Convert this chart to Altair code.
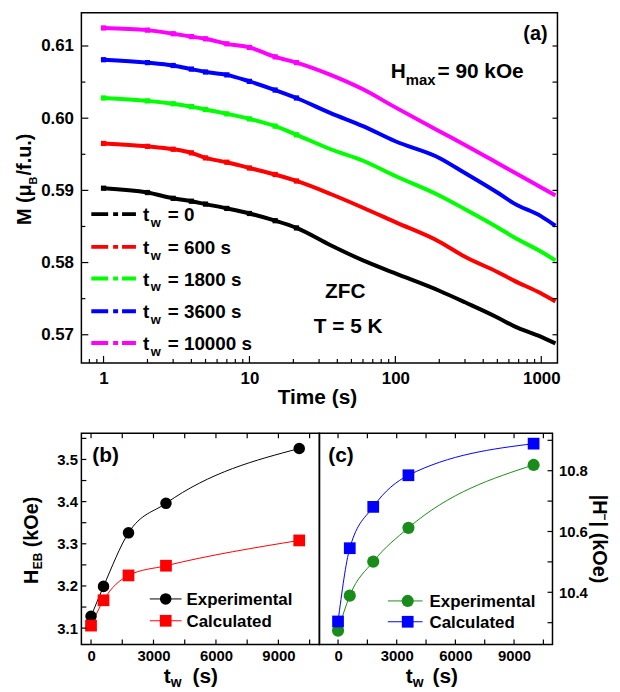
import altair as alt
import pandas as pd

F = "Liberation Sans"

# ---------------- Panel (a) data ----------------
t_s = [1, 2, 3, 4, 5, 7, 10, 15, 21, 36, 60, 100, 200, 300, 500, 650, 1000, 1250]
m_tw0 = [0.5903, 0.5897, 0.5889, 0.5885, 0.5881, 0.5875, 0.5868, 0.5858, 0.5848, 0.5824,
         0.5803, 0.5785, 0.5761, 0.5745, 0.5724, 0.5712, 0.5697, 0.5688]
m_tw600 = [0.5965, 0.5961, 0.5957, 0.5952, 0.5945, 0.5939, 0.5931, 0.5922, 0.5913, 0.5895,
           0.5876, 0.5856, 0.5829, 0.5808, 0.5787, 0.5775, 0.5757, 0.5746]
m_tw1800 = [0.6028, 0.6024, 0.6020, 0.6016, 0.6012, 0.6006, 0.5999, 0.5989, 0.5977, 0.5957,
            0.5941, 0.5920, 0.5893, 0.5874, 0.5849, 0.5835, 0.5815, 0.5803]
m_tw3600 = [0.6081, 0.6077, 0.6073, 0.6068, 0.6064, 0.6060, 0.6051, 0.6039, 0.6028, 0.6007,
            0.5989, 0.5968, 0.5945, 0.5924, 0.5897, 0.5882, 0.5864, 0.5851]
m_tw10000 = [0.6125, 0.6122, 0.6117, 0.6113, 0.6110, 0.6103, 0.6098, 0.6085, 0.6077, 0.6060,
             0.6040, 0.6015, 0.5982, 0.5963, 0.5938, 0.5925, 0.5904, 0.5893]
series_names = ["tw0", "tw600", "tw1800", "tw3600", "tw10000"]
series_colors = ["#000000", "#ff0000", "#00ff00", "#0000ff", "#ff00ff"]
legend_rest = ["= 0", "= 600 s", "= 1800 s", "= 3600 s", "= 10000 s"]

a_x_major = [1, 10, 100, 1000]
a_x_minor = [0.8, 0.9, 2, 3, 4, 5, 6, 7, 8, 9, 20, 30, 40, 50, 60, 70, 80, 90,
             200, 300, 400, 500, 600, 700, 800, 900]
a_y_major = [0.57, 0.58, 0.59, 0.60, 0.61]
a_y_minor = [0.575, 0.585, 0.595, 0.605]

# ---------------- Panels (b), (c) data ----------------
tw = [0, 600, 1800, 3600, 10000]
heb_exp = [3.128, 3.199, 3.326, 3.396, 3.526]
heb_calc = [3.106, 3.166, 3.225, 3.248, 3.308]
hm_exp = [10.274, 10.389, 10.501, 10.612, 10.819]
hm_calc = [10.304, 10.545, 10.681, 10.785, 10.889]

bc_x_major = [0, 3000, 6000, 9000]
bc_x_minor = [1500, 4500, 7500, 10500]
b_y_major = [3.1, 3.2, 3.3, 3.4, 3.5]
b_y_minor = [3.15, 3.25, 3.35, 3.45, 3.55]
c_y_major = [10.4, 10.6, 10.8]
c_y_minor = [10.3, 10.5, 10.7, 10.9]

one = pd.DataFrame({"k": [0]})


def label(s, x, y, size, align="left", angle=None, color="black", baseline="alphabetic"):
    kw = dict(text=s, font=F, fontWeight="bold", fontSize=size, align=align,
              baseline=baseline, color=color)
    if angle is not None:
        kw["angle"] = angle
    return alt.Chart(one).mark_text(**kw).encode(x=alt.value(x), y=alt.value(y))


def xticks(vals, scale, axis, H, length, top=False):
    df = pd.DataFrame({"v": vals})
    y1, y2 = (0, length) if top else (H, H - length)
    return alt.Chart(df).mark_rule(color="black", strokeWidth=1.2).encode(
        x=alt.X("v:Q", scale=scale, axis=axis), y=alt.value(y1), y2=alt.value(y2))


def yticks(vals, scale, axis, W, length, right=False):
    df = pd.DataFrame({"v": vals})
    x1, x2 = (W, W - length) if right else (0, length)
    return alt.Chart(df).mark_rule(color="black", strokeWidth=1.2).encode(
        y=alt.Y("v:Q", scale=scale, axis=axis), x=alt.value(x1), x2=alt.value(x2))


# ================= Panel (a) =================
WA, HA = 480, 353
rows = []
for name, vals in zip(series_names, [m_tw0, m_tw600, m_tw1800, m_tw3600, m_tw10000]):
    for t, m in zip(t_s, vals):
        rows.append({"t": t, "M": m, "series": name})
df_a = pd.DataFrame(rows)
df_a_marks = df_a[df_a["t"] <= 21]

xs_a = alt.Scale(type="log", domain=[0.705, 1291], nice=False)
ys_a = alt.Scale(domain=[0.5661, 0.6146], nice=False, zero=False)
ax_xa = alt.Axis(values=a_x_major, format="d", title=None, labelFontSize=17,
                 labelPadding=8, labelFlush=False, labelOverlap=False)
ax_ya = alt.Axis(values=a_y_major, format=".2f", title=None, labelFontSize=17,
                 labelPadding=8, labelOverlap=False)
col = alt.Color("series:N", scale=alt.Scale(domain=series_names, range=series_colors), legend=None)

layers_a = [
    alt.Chart(one).mark_rect(opacity=0).encode(
        x=alt.value(-73), x2=alt.value(-70), y=alt.value(-1), y2=alt.value(2)),
    alt.Chart(df_a).mark_line(strokeWidth=4, interpolate="monotone").encode(
        x=alt.X("t:Q", scale=xs_a, axis=ax_xa), y=alt.Y("M:Q", scale=ys_a, axis=ax_ya), color=col),
    alt.Chart(df_a_marks).mark_square(size=28, opacity=1).encode(
        x=alt.X("t:Q", scale=xs_a, axis=ax_xa), y=alt.Y("M:Q", scale=ys_a, axis=ax_ya), color=col),
    xticks(a_x_major, xs_a, ax_xa, HA, 7),
    xticks(a_x_minor, xs_a, ax_xa, HA, 4),
    yticks(a_y_major, ys_a, ax_ya, WA, 7),
    yticks(a_y_minor, ys_a, ax_ya, WA, 4),
    yticks(a_y_major + a_y_minor, ys_a, ax_ya, WA, 5, right=True),
]
leg_y = [203, 236, 268, 301, 333]
for yy, c, rest in zip(leg_y, series_colors, legend_rest):
    layers_a.append(alt.Chart(one).mark_rule(color=c, strokeWidth=4, strokeDash=[17, 5, 5, 4]).encode(
        x=alt.value(10), x2=alt.value(55), y=alt.value(yy)))
    layers_a.append(label("t", 62, yy + 7, 19))
    layers_a.append(label("w", 70, yy + 13, 13))
    layers_a.append(label(rest, 87, yy + 7, 19))

layers_a += [
    label("(a)", 470, 27, 20, align="right"),
    label("H", 312, 66, 21),
    label("max", 327, 73, 15),
    label("= 90 kOe", 359, 66, 21),
    label("ZFC", 266, 288, 21, align="center"),
    label("T = 5 K", 269, 323, 21, align="center"),
    label("Time (s)", 238, 394, 21, align="center"),
    label("M (μ", -51, 214, 20, angle=270),
    label("B", -45, 173, 11, angle=270),
    label("/f.u.)", -51, 164, 20, angle=270),
]
chart_a = alt.layer(*layers_a).properties(width=WA, height=HA)

# ================= Panel (b) =================
WB, HB = 240, 213
df_b = pd.DataFrame({"tw": tw, "exp": heb_exp, "calc": heb_calc})
xs_b = alt.Scale(domain=[-463, 10970], nice=False, zero=False)
ys_b = alt.Scale(domain=[3.061, 3.562], nice=False, zero=False)
ax_xb = alt.Axis(values=bc_x_major, format="d", title=None, labelFontSize=15,
                 labelPadding=4, labelFlush=False, labelOverlap=False)
ax_yb = alt.Axis(values=b_y_major, format=".1f", title=None, labelFontSize=15,
                 labelPadding=4, labelOverlap=False)
Xb = alt.X("tw:Q", scale=xs_b, axis=ax_xb)
layers_b = [
    alt.Chart(df_b).mark_line(interpolate="monotone", color="black", strokeWidth=1).encode(
        x=Xb, y=alt.Y("exp:Q", scale=ys_b, axis=ax_yb)),
    alt.Chart(df_b).mark_line(interpolate="monotone", color="#ff0000", strokeWidth=1).encode(
        x=Xb, y=alt.Y("calc:Q", scale=ys_b, axis=ax_yb)),
    alt.Chart(df_b).mark_point(shape="circle", filled=True, size=135, opacity=1, color="black").encode(
        x=Xb, y=alt.Y("exp:Q", scale=ys_b, axis=ax_yb)),
    alt.Chart(df_b).mark_point(shape="square", filled=True, size=140, opacity=1, color="#ff0000").encode(
        x=Xb, y=alt.Y("calc:Q", scale=ys_b, axis=ax_yb)),
    xticks(bc_x_major + bc_x_minor, xs_b, ax_xb, HB, 5),
    xticks(bc_x_major + bc_x_minor, xs_b, ax_xb, HB, 5, top=True),
    yticks(b_y_major + b_y_minor, ys_b, ax_yb, WB, 5),
    # legend
    alt.Chart(one).mark_rule(color="black", strokeWidth=1).encode(
        x=alt.value(69), x2=alt.value(101), y=alt.value(167)),
    alt.Chart(one).mark_point(shape="circle", filled=True, size=135, opacity=1, color="black").encode(
        x=alt.value(85), y=alt.value(167)),
    label("Experimental", 106, 173, 17),
    alt.Chart(one).mark_rule(color="#ff0000", strokeWidth=1).encode(
        x=alt.value(69), x2=alt.value(101), y=alt.value(189)),
    alt.Chart(one).mark_point(shape="square", filled=True, size=140, opacity=1, color="#ff0000").encode(
        x=alt.value(85), y=alt.value(189)),
    label("Calculated", 106, 195, 17),
    label("(b)", 11, 29, 21),
    label("t", 83, 252, 21),
    label("w", 90, 256, 14),
    label("(s)", 112, 252, 21),
    label("H", -44, 152, 20, angle=270),
    label("EB", -40, 137, 12, angle=270),
    label("(kOe)", -44, 115, 20, angle=270),
]
chart_b = alt.layer(*layers_b).properties(width=WB, height=HB)

# ================= Panel (c) =================
WC, HC = 235, 213
df_c = pd.DataFrame({"tw": tw, "exp": hm_exp, "calc": hm_calc})
xs_c = alt.Scale(domain=[-952, 10966], nice=False, zero=False)
ys_c = alt.Scale(domain=[10.228, 10.923], nice=False, zero=False)
ax_xc = alt.Axis(values=bc_x_major, format="d", title=None, labelFontSize=15,
                 labelPadding=4, labelFlush=False, labelOverlap=False)
ax_yc = alt.Axis(values=c_y_major, format=".1f", title=None, labelFontSize=15, orient="right",
                 labelPadding=6, labelOverlap=False)
Xc = alt.X("tw:Q", scale=xs_c, axis=ax_xc)
GREEN = "#1a8c1a"
layers_c = [
    alt.Chart(df_c).mark_line(interpolate="monotone", color=GREEN, strokeWidth=1).encode(
        x=Xc, y=alt.Y("exp:Q", scale=ys_c, axis=ax_yc)),
    alt.Chart(df_c).mark_line(interpolate="monotone", color="#0000ff", strokeWidth=1).encode(
        x=Xc, y=alt.Y("calc:Q", scale=ys_c, axis=ax_yc)),
    alt.Chart(df_c).mark_point(shape="circle", filled=True, size=150, opacity=1, color=GREEN).encode(
        x=Xc, y=alt.Y("exp:Q", scale=ys_c, axis=ax_yc)),
    alt.Chart(df_c).mark_point(shape="square", filled=True, size=140, opacity=1, color="#0000ff").encode(
        x=Xc, y=alt.Y("calc:Q", scale=ys_c, axis=ax_yc)),
    xticks(bc_x_major + bc_x_minor, xs_c, ax_xc, HC, 5),
    xticks(bc_x_major + bc_x_minor, xs_c, ax_xc, HC, 5, top=True),
    yticks(c_y_major + c_y_minor, ys_c, ax_yc, WC, 5, right=True),
    # legend
    alt.Chart(one).mark_rule(color=GREEN, strokeWidth=1).encode(
        x=alt.value(69), x2=alt.value(104), y=alt.value(169)),
    alt.Chart(one).mark_point(shape="circle", filled=True, size=150, opacity=1, color=GREEN).encode(
        x=alt.value(89), y=alt.value(169)),
    label("Experimental", 111, 175, 17),
    alt.Chart(one).mark_rule(color="#0000ff", strokeWidth=1).encode(
        x=alt.value(69), x2=alt.value(104), y=alt.value(190)),
    alt.Chart(one).mark_point(shape="square", filled=True, size=140, opacity=1, color="#0000ff").encode(
        x=alt.value(89), y=alt.value(190)),
    label("Calculated", 111, 196, 17),
    label("(c)", 9, 29, 21),
    label("t", 87, 252, 21),
    label("w", 94, 256, 14),
    label("(s)", 114, 252, 21),
    label("|H", 276, 62, 20, angle=90),
    label("−", 284, 81, 12, angle=90),
    label("| (kOe)", 276, 89, 20, angle=90),
]
chart_c = alt.layer(*layers_c).properties(width=WC, height=HC)

chart = alt.vconcat(
    chart_a,
    alt.hconcat(chart_b, chart_c, spacing=0, bounds="flush"),
    spacing=71, bounds="flush",
).properties(padding=0).configure_view(
    stroke="black", strokeWidth=1.5
).configure_axis(
    labelFont=F, labelFontWeight="bold", labelColor="black",
    domain=False, ticks=False, grid=False,
)

chart.save("out.html", embed_options={"renderer": "svg", "actions": False})
